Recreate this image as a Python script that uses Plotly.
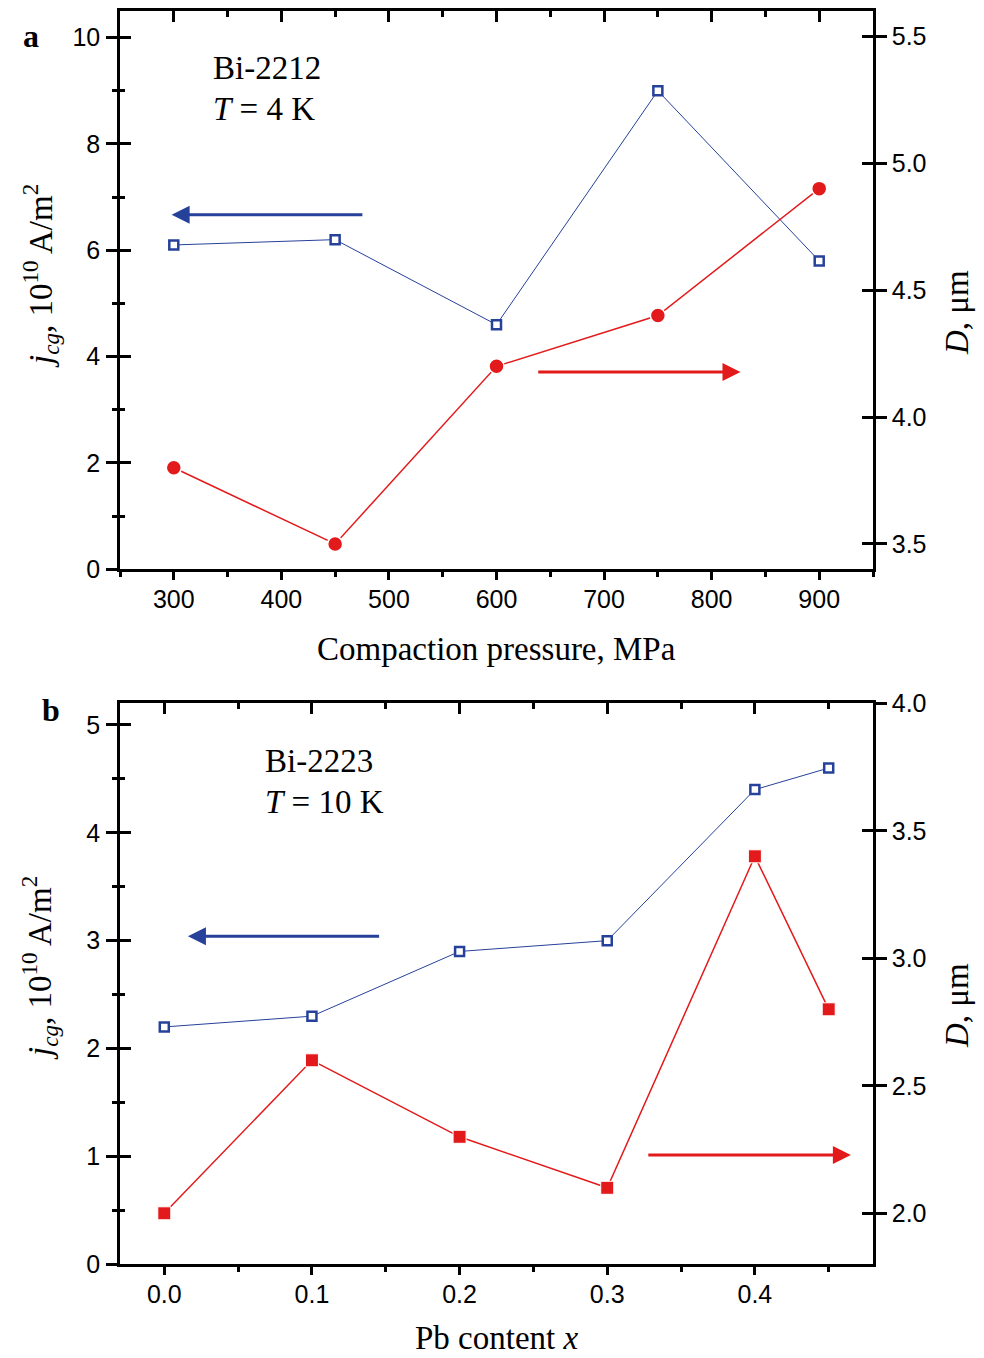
import plotly.graph_objects as go

# ---------------- data ----------------
# Panel a: Bi-2212, T = 4 K
pressure = [300, 450, 600, 750, 900]
jcg_a = [6.1, 6.2, 4.6, 9.0, 5.8]
D_a = [3.8, 3.5, 4.2, 4.4, 4.9]

# Panel b: Bi-2223, T = 10 K
pb_content = [0.0, 0.1, 0.2, 0.3, 0.4, 0.45]
jcg_b = [2.2, 2.3, 2.9, 3.0, 4.4, 4.6]
D_b = [2.0, 2.6, 2.3, 2.1, 3.4, 2.8]

# ---------------- style ----------------
PAGE_W, PAGE_H = 984, 1358
BODY = 8  # default page margin around the plot div
W, H = PAGE_W - BODY, PAGE_H - BODY
BLUE = "#26419a"
RED = "#e31a1c"
SANS = "Liberation Sans, Arial, sans-serif"
SERIF = "Liberation Serif, Times New Roman, serif"
TICKFONT = dict(family=SANS, size=25, color="black")
LW = 2.5
TXT = 33


def px_x(p):
    return (p - BODY) / W


def px_y(p):
    return 1 - (p - BODY) / H


xdom = [px_x(120), px_x(873)]
ydom_a = [px_y(569.3), px_y(11)]
ydom_b = [px_y(1264.3), px_y(703.3)]

fig = go.Figure()

# panel a traces
fig.add_trace(go.Scatter(
    x=pressure, y=jcg_a, xaxis="x", yaxis="y", mode="lines+markers",
    line=dict(color=BLUE, width=1),
    marker=dict(symbol="square", size=9, color="white", line=dict(color=BLUE, width=2.5)),
    showlegend=False))
fig.add_trace(go.Scatter(
    x=pressure, y=D_a, xaxis="x", yaxis="y3", mode="lines+markers",
    line=dict(color=RED, width=1.5),
    marker=dict(symbol="circle", size=15, color=RED, line=dict(color="white", width=1.5)),
    showlegend=False))

# panel b traces
fig.add_trace(go.Scatter(
    x=pb_content, y=jcg_b, xaxis="x3", yaxis="y5", mode="lines+markers",
    line=dict(color=BLUE, width=1),
    marker=dict(symbol="square", size=9, color="white", line=dict(color=BLUE, width=2.5)),
    showlegend=False))
fig.add_trace(go.Scatter(
    x=pb_content, y=D_b, xaxis="x3", yaxis="y7", mode="lines+markers",
    line=dict(color=RED, width=1.5),
    marker=dict(symbol="square", size=13, color=RED, line=dict(color="white", width=1)),
    showlegend=False))

# invisible companions so that the tick-only overlay axes get drawn
for xs, ys, xa, ya in [(pressure, jcg_a, "x2", "y2"), (pressure, D_a, "x", "y4"),
                       (pb_content, jcg_b, "x4", "y6"), (pb_content, D_b, "x3", "y8")]:
    fig.add_trace(go.Scatter(x=xs, y=ys, xaxis=xa, yaxis=ya, mode="markers",
                             marker=dict(opacity=0, size=1), hoverinfo="skip",
                             showlegend=False))

common = dict(showgrid=False, zeroline=False, linecolor="black", linewidth=LW,
              tickcolor="black", tickwidth=LW, tickfont=TICKFONT, automargin=False)


def minor(dtick, ticks, ln):
    return dict(dtick=dtick, tick0=0, ticks=ticks, ticklen=ln, tickwidth=LW,
                tickcolor="black", showgrid=False)


def panel(xa, xa_top, ya, ya_in, yr, yr_in, xanchor_name, yanchor_name,
          xrange, xdtick, xminor, xfmt, ydom, yrange, ydtick, yminor, rrange, rdtick):
    lay = {}
    lay[xa] = dict(common, domain=xdom, anchor=yanchor_name, range=xrange, dtick=xdtick, tick0=0,
                   tickformat=xfmt, ticks="outside", ticklen=8, showline=True,
                   minor=minor(xminor, "outside", 5), ticklabelstandoff=-2)
    lay[xa_top] = dict(common, overlaying=xanchor_name, side="top", anchor=yanchor_name,
                       range=xrange, dtick=xdtick, tick0=0, ticks="inside", ticklen=11,
                       showline=True, showticklabels=False, minor=minor(xminor, "inside", 6))
    lay[ya] = dict(common, domain=ydom, anchor=xanchor_name, range=yrange, dtick=ydtick, tick0=0,
                   ticks="outside", ticklen=11, showline=True,
                   minor=minor(yminor, "outside", 5), ticklabelstandoff=1)
    lay[ya_in] = dict(common, overlaying=yanchor_name, anchor=xanchor_name, side="left",
                      range=yrange, dtick=ydtick, tick0=0, ticks="inside", ticklen=11,
                      showline=False, showticklabels=False, minor=minor(yminor, "inside", 5))
    lay[yr] = dict(common, overlaying=yanchor_name, anchor=xanchor_name, side="right",
                   range=rrange, dtick=rdtick, tick0=0, tickformat=".1f", ticks="outside",
                   ticklen=11, showline=True, ticklabelstandoff=0)
    lay[yr_in] = dict(common, overlaying=yanchor_name, anchor=xanchor_name, side="right",
                      range=rrange, dtick=rdtick, tick0=0, ticks="inside", ticklen=11,
                      showline=False, showticklabels=False)
    return lay


layout_axes = {}
layout_axes.update(panel("xaxis", "xaxis2", "yaxis", "yaxis2", "yaxis3", "yaxis4", "x", "y",
                         [250, 950], 100, 50, "d", ydom_a, [0, 10.5], 2, 1, [3.4, 5.6], 0.5))
layout_axes.update(panel("xaxis3", "xaxis4", "yaxis5", "yaxis6", "yaxis7", "yaxis8", "x3", "y5",
                         [-0.03, 0.48], 0.1, 0.05, ".1f", ydom_b, [0, 5.2], 1, 0.5, [1.8, 4.0], 0.5))

ann = []


def text(x, y, s, size=TXT, xanchor="center", yanchor="middle", angle=0, bold=False):
    ann.append(dict(x=px_x(x), y=px_y(y), xref="paper", yref="paper", text=s, showarrow=False,
                    xanchor=xanchor, yanchor=yanchor, textangle=angle,
                    font=dict(family=SERIF, size=size, color="black",
                              weight="bold" if bold else "normal")))


# axis titles
text(496.5, 649, "Compaction pressure, MPa")
text(496.5, 1357.5, "Pb content <i>x</i>", yanchor="bottom")
text(40, 276, "<i>j</i><sub><i>cg</i></sub>, 10<sup>10</sup> A/m<sup>2</sup>", angle=-90)
text(39, 968, "<i>j</i><sub><i>cg</i></sub>, 10<sup>10</sup> A/m<sup>2</sup>", angle=-90)
text(957, 313, "<i>D</i>, μm", angle=-90)
text(957, 1006, "<i>D</i>, μm", angle=-90)

# in-plot labels
text(211, 68, "Bi-2212", xanchor="left")
text(211, 109, "<i>T</i> = 4 K", xanchor="left")
text(263, 761, "Bi-2223", xanchor="left")
text(263, 802, "<i>T</i> = 10 K", xanchor="left")
text(31, 36, "a", size=32, bold=True)
text(50.5, 710, "b", size=32, bold=True)


def arrow(x, y, ax, ay, xref, yref, color):
    ann.append(dict(x=x, y=y, ax=ax, ay=ay, xref=xref, yref=yref, axref=xref, ayref=yref,
                    text="", showarrow=True, arrowhead=2, arrowsize=1.2, arrowwidth=3,
                    arrowcolor=color, standoff=0, startstandoff=0))


arrow(298, 6.67, 476.7, 6.67, "x", "y", BLUE)
arrow(826.8, 4.177, 637.4, 4.177, "x", "y3", RED)
arrow(0.016, 3.04, 0.1465, 3.04, "x3", "y5", BLUE)
arrow(0.465, 2.229, 0.3268, 2.229, "x3", "y7", RED)

fig.update_layout(
    width=W, height=H,
    margin=dict(l=0, r=0, t=0, b=0, autoexpand=False),
    paper_bgcolor="white", plot_bgcolor="white",
    annotations=ann,
    **layout_axes,
)

fig.write_html("out.html")
